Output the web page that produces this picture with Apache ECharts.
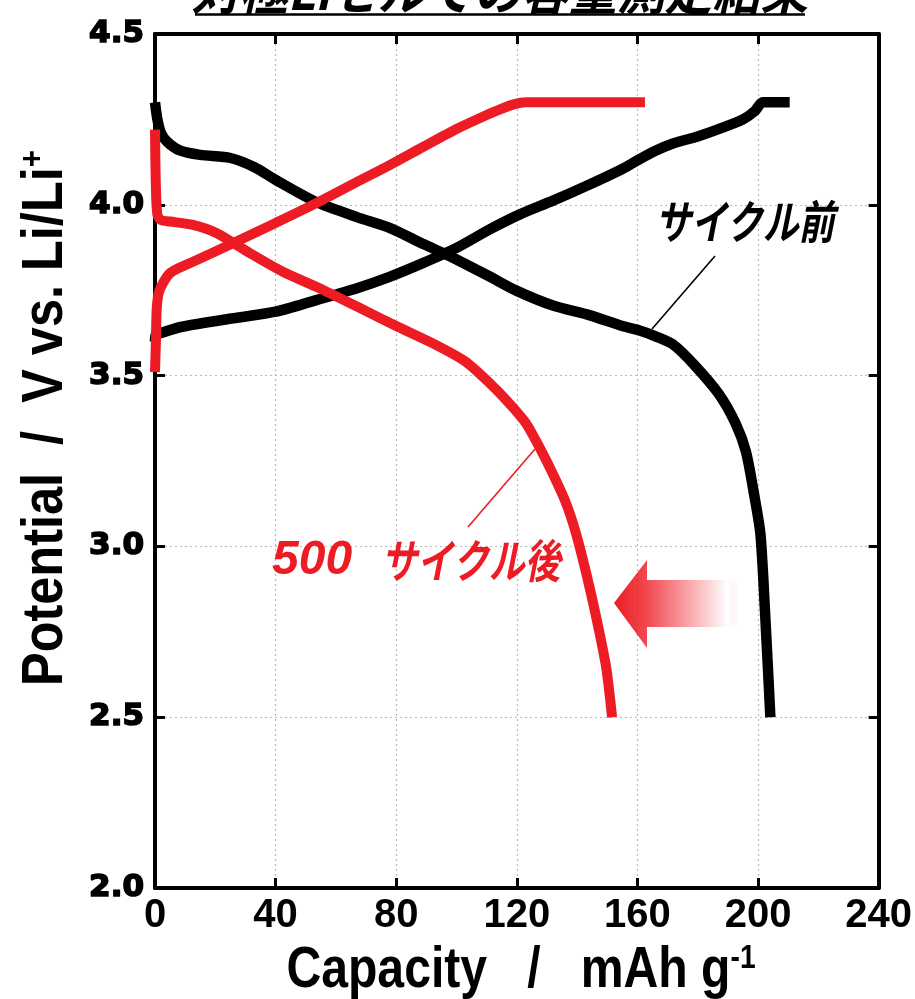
<!DOCTYPE html>
<html>
<head>
<meta charset="utf-8">
<script src="https://cdn.jsdelivr.net/npm/echarts@6/dist/echarts.min.js"></script>
<style>
  html, body { margin: 0; padding: 0; background: #fff; }
  #chart { width: 915px; height: 999px; }
</style>
</head>
<body>
<div id="chart"></div>
<script>
// Charge / discharge curves of the Li half-cell (capacity in mAh/g, potential in V)
const beforeChargeCap = [0, 0.3, 2, 9, 26, 40, 53.5, 67, 78, 89, 100, 111, 121, 132, 143, 155, 160, 166, 172, 180, 188, 195, 199, 201.5, 205, 210.5];
const beforeChargeV   = [3.60, 3.62, 3.625, 3.643, 3.668, 3.687, 3.721, 3.756, 3.79, 3.83, 3.874, 3.928, 3.972, 4.012, 4.055, 4.105, 4.13, 4.158, 4.18, 4.20, 4.225, 4.25, 4.275, 4.30, 4.30, 4.30];

const beforeDischargeCap = [0, 0.8, 2, 4, 8, 15, 25, 33, 40, 53.5, 67, 78, 89, 96, 100, 111, 120, 132, 144, 155, 160.5, 166, 172, 179, 187, 192.5, 196, 198.6, 200.8, 202.4, 204.1];
const beforeDischargeV   = [4.30, 4.25, 4.21, 4.185, 4.16, 4.146, 4.137, 4.11, 4.073, 4.008, 3.964, 3.932, 3.885, 3.857, 3.84, 3.79, 3.748, 3.705, 3.677, 3.645, 3.633, 3.615, 3.59, 3.53, 3.446, 3.361, 3.277, 3.157, 3.036, 2.795, 2.50];

const afterChargeCap = [0, 0.3, 0.6, 1.5, 5, 12.6, 26, 40, 53.5, 67, 78, 89, 100, 108, 114, 119, 123, 130, 162.5];
const afterChargeV   = [3.51, 3.60, 3.70, 3.75, 3.80, 3.833, 3.888, 3.947, 4.005, 4.067, 4.117, 4.17, 4.222, 4.255, 4.278, 4.294, 4.30, 4.30, 4.30];

const afterDischargeCap = [0, 0.3, 0.8, 2, 5, 12.6, 20.5, 31.4, 42.4, 53.5, 67, 80, 92, 103, 111, 117.5, 123, 127.4, 131.8, 136.3, 139.6, 143, 146.3, 149.6, 151.6];
const afterDischargeV   = [4.22, 4.05, 3.97, 3.955, 3.951, 3.941, 3.917, 3.859, 3.804, 3.76, 3.702, 3.645, 3.595, 3.541, 3.478, 3.419, 3.361, 3.292, 3.215, 3.127, 3.039, 2.922, 2.794, 2.648, 2.50];

// Axis ticks
const capTicks = [0, 40, 80, 120, 160, 200, 240];
const potentialTicks = [2.0, 2.5, 3.0, 3.5, 4.0, 4.5];

// Texts
const titleText = '対極Liセルでの容量測定結果';
const beforeLabel = 'サイクル前';
const afterCount = '500';
const afterLabel = 'サイクル後';

const RED = '#ED1C24';
const BLACK = '#000000';
const SANS = '"Liberation Sans", Arial, sans-serif';
const CJK = '"Noto Sans CJK JP", sans-serif';

const zip = (xs, ys) => xs.map((x, i) => [x, ys[i]]);

const chart = echarts.init(document.getElementById('chart'), null, { renderer: 'canvas' });

const frameAxis = {
  axisLine: { show: true, onZero: false, lineStyle: { color: BLACK, width: 4 } },
  axisTick: { show: true, inside: true, length: 10, lineStyle: { color: BLACK, width: 3 } }
};

const dotted = { show: true, lineStyle: { color: '#b8b8b8', width: 1.2, type: [2, 3] } };

const option = {
  animation: false,
  backgroundColor: '#ffffff',
  grid: { left: 155, top: 34, right: 35, bottom: 111, containLabel: false },
  xAxis: [
    Object.assign({
      type: 'value', position: 'bottom',
      min: capTicks[0], max: capTicks[capTicks.length - 1], interval: capTicks[1] - capTicks[0],
      splitLine: dotted,
      axisLabel: { show: true, color: BLACK, margin: 8, fontFamily: SANS, fontWeight: 'bold', fontSize: 40 }
    }, frameAxis),
    Object.assign({
      type: 'value', position: 'top',
      min: capTicks[0], max: capTicks[capTicks.length - 1], interval: capTicks[1] - capTicks[0],
      splitLine: { show: false }, axisLabel: { show: false }
    }, frameAxis)
  ],
  yAxis: [
    Object.assign({
      type: 'value', position: 'left',
      min: potentialTicks[0], max: potentialTicks[potentialTicks.length - 1], interval: potentialTicks[1] - potentialTicks[0],
      splitLine: dotted,
      axisLabel: {
        show: true, color: BLACK, margin: 11,
        fontFamily: '"DejaVu Sans", sans-serif', fontWeight: 'bold', fontSize: 31,
        textBorderColor: BLACK, textBorderWidth: 1.6,
        formatter: v => v.toFixed(1)
      }
    }, frameAxis),
    Object.assign({
      type: 'value', position: 'right',
      min: potentialTicks[0], max: potentialTicks[potentialTicks.length - 1], interval: potentialTicks[1] - potentialTicks[0],
      splitLine: { show: false }, axisLabel: { show: false }
    }, frameAxis)
  ],
  series: [
    { name: 'before-charge', type: 'line', data: zip(beforeChargeCap, beforeChargeV), showSymbol: false, smooth: 0.25,
      lineStyle: { color: BLACK, width: 10.5, cap: 'butt', join: 'round' }, z: 3 },
    { name: 'before-discharge', type: 'line', data: zip(beforeDischargeCap, beforeDischargeV), showSymbol: false, smooth: 0.25,
      lineStyle: { color: BLACK, width: 10.5, cap: 'butt', join: 'round' }, z: 3 },
    { name: 'after-charge', type: 'line', data: zip(afterChargeCap, afterChargeV), showSymbol: false, smooth: 0.25,
      lineStyle: { color: RED, width: 10, cap: 'butt', join: 'round' }, z: 4 },
    { name: 'after-discharge', type: 'line', data: zip(afterDischargeCap, afterDischargeV), showSymbol: false, smooth: 0.25,
      lineStyle: { color: RED, width: 10, cap: 'butt', join: 'round' }, z: 4 }
  ],
  graphic: [
    // heading, mostly above the canvas edge
    { type: 'text', x: 500, y: 16, scaleX: 0.92, z: 10,
      style: { text: titleText, font: 'italic bold 52px ' + CJK, fill: BLACK, align: 'center', verticalAlign: 'bottom' } },
    { type: 'line', z: 10, shape: { x1: 195, y1: 14.5, x2: 805, y2: 14.5 }, style: { stroke: BLACK, lineWidth: 2.5 } },

    // axis titles (condensed)
    { type: 'text', x: 46, y: 418, rotation: Math.PI / 2, scaleX: 0.87, z: 10,
      style: {
        text: 'Potential  /  V vs. Li/Li{sup|+}',
        font: 'bold 58px ' + SANS, fill: BLACK, align: 'center', verticalAlign: 'middle',
        rich: { sup: { font: 'bold 34px ' + SANS, fill: BLACK, verticalAlign: 'top', padding: [0, 0, 18, 0] } }
      } },
    { type: 'text', x: 521, y: 971, scaleX: 0.83, z: 10,
      style: {
        text: 'Capacity   /   mAh g{sup|-1}',
        font: 'bold 58px ' + SANS, fill: BLACK, align: 'center', verticalAlign: 'middle',
        rich: { sup: { font: 'bold 34px ' + SANS, fill: BLACK, verticalAlign: 'top', padding: [0, 0, 18, 0] } }
      } },

    // curve labels with leader lines
    { type: 'text', x: 655, y: 222, scaleX: 0.78, z: 10,
      style: { text: beforeLabel, font: 'italic bold 46px ' + CJK, fill: BLACK, align: 'left', verticalAlign: 'middle' } },
    { type: 'line', z: 10, shape: { x1: 715, y1: 256, x2: 652, y2: 329 }, style: { stroke: BLACK, lineWidth: 1.6 } },

    { type: 'text', x: 272, y: 561, z: 10,
      style: { text: afterCount, font: 'italic bold 48px ' + SANS, fill: RED, align: 'left', verticalAlign: 'middle' } },
    { type: 'text', x: 381, y: 561, scaleX: 0.78, z: 10,
      style: { text: afterLabel, font: 'italic bold 46px ' + CJK, fill: RED, align: 'left', verticalAlign: 'middle' } },
    { type: 'line', z: 10, shape: { x1: 535, y1: 449, x2: 468, y2: 527 }, style: { stroke: RED, lineWidth: 1.6 } },

    // fading arrow pointing to lower capacity
    { type: 'polygon', z: 9,
      shape: { points: [[614, 603], [647, 560], [647, 580], [725, 580], [725, 627], [647, 627], [647, 648]] },
      style: {
        fill: new echarts.graphic.LinearGradient(0, 0, 1, 0, [
          { offset: 0, color: 'rgba(237,28,36,1)' },
          { offset: 0.3, color: 'rgba(237,28,36,0.8)' },
          { offset: 1, color: 'rgba(237,28,36,0.03)' }
        ])
      } },
    { type: 'rect', z: 9, shape: { x: 729, y: 580, width: 8, height: 47 },
      style: { fill: 'rgba(237,28,36,0.03)' } }
  ]
};

chart.setOption(option);
</script>
</body>
</html>
